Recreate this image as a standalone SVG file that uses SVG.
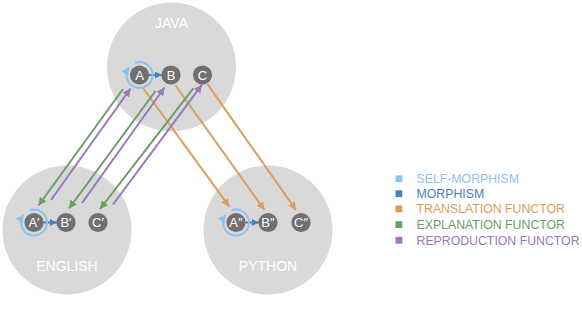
<svg xmlns="http://www.w3.org/2000/svg" width="582" height="313" viewBox="0 0 582 313">
<style>
.cat{fill:#d9d9d9}
.catlabel{font-family:"Liberation Sans",Arial,sans-serif;font-size:14px;fill:#ffffff;text-anchor:middle}
.node{fill:#707070}
.nlabel{font-family:"Liberation Sans",Arial,sans-serif;font-size:13px;fill:#ffffff;text-anchor:middle}
.self{fill:none;stroke:#8cc1ef;stroke-width:2}
.morph{fill:none;stroke:#4c80b6;stroke-width:2}
.trans{fill:none;stroke:#d99e5b;stroke-width:2}
.expl{fill:none;stroke:#6a9e66;stroke-width:2}
.repr{fill:none;stroke:#9979b7;stroke-width:2}
.leg{font-family:"Liberation Sans",Arial,sans-serif;font-size:12.3px}
</style>
<defs>
<marker id="mSelf" viewBox="0 0 10 10" refX="9" refY="5" markerWidth="8" markerHeight="8" markerUnits="userSpaceOnUse" orient="auto"><path d="M0,0 L10,5 L0,10 z" fill="#8cc1ef"/></marker>
<marker id="mMorph" viewBox="0 0 10 10" refX="10" refY="5" markerWidth="7" markerHeight="7" markerUnits="userSpaceOnUse" orient="auto"><path d="M0,0 L10,5 L0,10 z" fill="#4c80b6"/></marker>
<marker id="mTrans" viewBox="0 0 10 10" refX="10" refY="5" markerWidth="8" markerHeight="8" markerUnits="userSpaceOnUse" orient="auto"><path d="M0,0 L10,5 L0,10 z" fill="#d99e5b"/></marker>
<marker id="mExpl" viewBox="0 0 10 10" refX="10" refY="5" markerWidth="8" markerHeight="8" markerUnits="userSpaceOnUse" orient="auto"><path d="M0,0 L10,5 L0,10 z" fill="#6a9e66"/></marker>
<marker id="mRepr" viewBox="0 0 10 10" refX="10" refY="5" markerWidth="8" markerHeight="8" markerUnits="userSpaceOnUse" orient="auto"><path d="M0,0 L10,5 L0,10 z" fill="#9979b7"/></marker>
</defs>

<g id="java">
<circle class="cat" cx="171.5" cy="67" r="64.5"/>
<text class="catlabel" x="171.5" y="28">JAVA</text>
</g>
<g id="english">
<circle class="cat" cx="67" cy="230" r="64.5"/>
<text class="catlabel" x="67" y="271">ENGLISH</text>
</g>
<g id="python">
<circle class="cat" cx="268" cy="230" r="64.5"/>
<text class="catlabel" x="268" y="271">PYTHON</text>
</g>

<g id="connectors">
<line class="trans" x1="143" y1="88" x2="229.3" y2="206.7" marker-end="url(#mTrans)"/>
<line class="trans" x1="175.5" y1="85.5" x2="264.5" y2="210" marker-end="url(#mTrans)"/>
<line class="trans" x1="207.5" y1="84.2" x2="296" y2="210" marker-end="url(#mTrans)"/>
<line class="expl" x1="123" y1="89" x2="38.5" y2="205.5" marker-end="url(#mExpl)"/>
<line class="expl" x1="155.5" y1="91" x2="69" y2="208.5" marker-end="url(#mExpl)"/>
<line class="expl" x1="193.3" y1="88.3" x2="100" y2="209" marker-end="url(#mExpl)"/>
<line class="repr" x1="51" y1="200" x2="130.5" y2="88.5" marker-end="url(#mRepr)"/>
<line class="repr" x1="82" y1="203" x2="164.5" y2="87.5" marker-end="url(#mRepr)"/>
<line class="repr" x1="113" y1="204.5" x2="202" y2="84.7" marker-end="url(#mRepr)"/>
<line class="morph" x1="149" y1="75" x2="162" y2="75" marker-end="url(#mMorph)"/>
<line class="morph" x1="43.5" y1="222.5" x2="57" y2="222.5" marker-end="url(#mMorph)"/>
<line class="morph" x1="245.5" y1="222.5" x2="259" y2="222.5" marker-end="url(#mMorph)"/>
<path class="self" d="M135.05,62.78 A13,13 0 1 1 128.85,67.54" marker-end="url(#mSelf)"/>
<path class="self" d="M29.55,210.28 A13,13 0 1 1 23.35,215.04" marker-end="url(#mSelf)"/>
<path class="self" d="M231.55,210.28 A13,13 0 1 1 225.35,215.04" marker-end="url(#mSelf)"/>
</g>

<g id="node-A"><circle class="node" cx="139.5" cy="75" r="9.6"/><text class="nlabel" x="139.5" y="79.6">A</text></g>
<g id="node-B"><circle class="node" cx="171" cy="75" r="9.6"/><text class="nlabel" x="171" y="79.6">B</text></g>
<g id="node-C"><circle class="node" cx="202.5" cy="75" r="9.6"/><text class="nlabel" x="202.5" y="79.6">C</text></g>
<g id="node-A1"><circle class="node" cx="34" cy="222.5" r="9.6"/><text class="nlabel" x="34" y="227.1">A′</text></g>
<g id="node-B1"><circle class="node" cx="66" cy="222.5" r="9.6"/><text class="nlabel" x="66" y="227.1">B′</text></g>
<g id="node-C1"><circle class="node" cx="98" cy="222.5" r="9.6"/><text class="nlabel" x="98" y="227.1">C′</text></g>
<g id="node-A2"><circle class="node" cx="236" cy="222.5" r="9.6"/><text class="nlabel" x="236" y="227.1">A″</text></g>
<g id="node-B2"><circle class="node" cx="268" cy="222.5" r="9.6"/><text class="nlabel" x="268" y="227.1">B″</text></g>
<g id="node-C2"><circle class="node" cx="301" cy="222.5" r="9.6"/><text class="nlabel" x="301" y="227.1">C″</text></g>

<g id="legend">
<rect x="395.5" y="175.3" width="6.8" height="6.8" fill="#8cc1ef"/>
<text class="leg" x="416.5" y="183" fill="#8cc1ef">SELF-MORPHISM</text>
<rect x="395.5" y="190.3" width="6.8" height="6.8" fill="#4c80b6"/>
<text class="leg" x="416.5" y="198" fill="#4c80b6">MORPHISM</text>
<rect x="395.5" y="205.5" width="6.8" height="6.8" fill="#d99e5b"/>
<text class="leg" x="416.5" y="213.3" fill="#d99e5b">TRANSLATION FUNCTOR</text>
<rect x="395.5" y="221.2" width="6.8" height="6.8" fill="#6a9e66"/>
<text class="leg" x="416.5" y="229" fill="#6a9e66">EXPLANATION FUNCTOR</text>
<rect x="395.5" y="236.9" width="6.8" height="6.8" fill="#9979b7"/>
<text class="leg" x="416.5" y="244.7" fill="#9979b7">REPRODUCTION FUNCTOR</text>
</g>
</svg>
